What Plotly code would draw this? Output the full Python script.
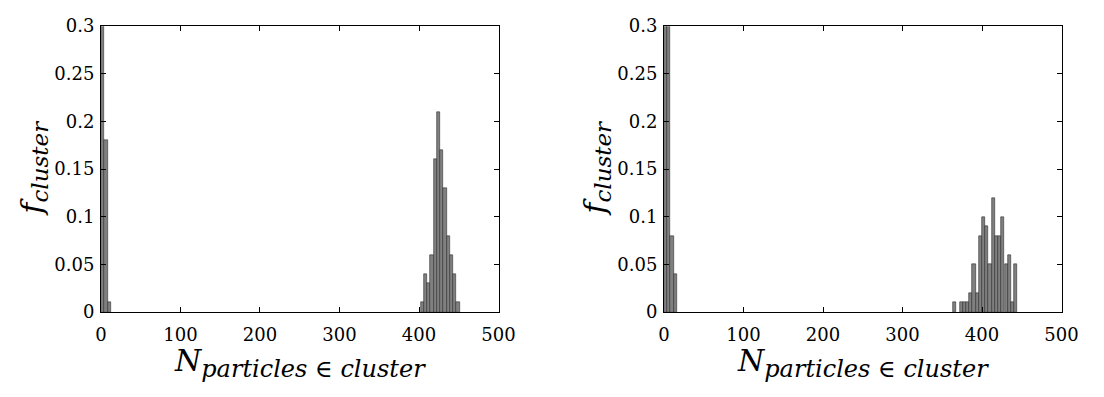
import plotly.graph_objects as go

# ---- data ----
left_x = [2.05, 6.15, 10.25,
          403.9, 408.0, 412.1, 416.2, 420.3, 424.4, 428.5, 432.6, 436.7, 440.8, 444.9, 449.0]
left_y = [0.52, 0.18, 0.01,
          0.01, 0.04, 0.03, 0.06, 0.16, 0.21, 0.17, 0.13, 0.08, 0.06, 0.04, 0.01]
left_width = 4.1

right_x = [2.0, 6.1, 10.1, 14.1,
           365.6,
           373.7, 377.7, 381.8, 385.8, 389.9, 393.9, 397.9, 402.0, 406.0,
           410.1, 414.1, 418.1, 422.2, 426.2, 430.3, 434.3, 438.3, 442.4]
right_y = [0.45, 0.43, 0.08, 0.04,
           0.01,
           0.01, 0.01, 0.01, 0.02, 0.05, 0.02, 0.08, 0.10, 0.09,
           0.05, 0.12, 0.08, 0.08, 0.10, 0.05, 0.06, 0.01, 0.05]
right_width = 4.04

x_ticks = [0, 100, 200, 300, 400, 500]
y_ticks = [0, 0.05, 0.1, 0.15, 0.2, 0.25, 0.3]
y_tick_text = ["0", "0.05", "0.1", "0.15", "0.2", "0.25", "0.3"]

y_title = "<i>f</i><sub><span style='font-size:23px'><i>cluster</i></span></sub>"
x_title = ("<i>N</i><sub><span style='font-size:24px'><i>particles</i> ∈ "
           "<i>cluster</i></span></sub>")

W, H = 1104, 397
FONT = "DejaVu Serif"

fig = go.Figure()
bar_style = dict(marker=dict(color="rgb(128,128,128)",
                             line=dict(color="rgb(45,45,45)", width=0.6)),
                 showlegend=False, hoverinfo="skip")
fig.add_trace(go.Bar(x=left_x, y=left_y, width=[left_width] * len(left_x),
                     xaxis="x", yaxis="y", **bar_style))
fig.add_trace(go.Bar(x=right_x, y=right_y, width=[right_width] * len(right_x),
                     xaxis="x2", yaxis="y2", **bar_style))

def px_x(p):
    return p / W

def px_y(p):
    return 1 - p / H

ax_common = dict(showline=True, linecolor="black", linewidth=1, mirror="ticks",
                 ticks="inside", ticklen=5, tickcolor="black", tickwidth=1,
                 showgrid=False, zeroline=False,
                 tickfont=dict(family=FONT, size=18, color="black"))

fig.update_layout(
    width=W, height=H,
    margin=dict(l=0, r=0, t=0, b=0),
    paper_bgcolor="white", plot_bgcolor="white",
    font=dict(family=FONT, color="black"),
    bargap=0,
    xaxis=dict(domain=[px_x(97), px_x(503)], range=[0, 500], tickvals=x_ticks,
               anchor="y", ticklabelstandoff=6, **ax_common),
    yaxis=dict(domain=[px_y(318), px_y(16)], range=[0, 0.3], tickvals=y_ticks,
               ticktext=y_tick_text, anchor="x", ticklabelstandoff=2, **ax_common),
    xaxis2=dict(domain=[px_x(672), px_x(1078)], range=[0, 500], tickvals=x_ticks,
                anchor="y2", ticklabelstandoff=6, **ax_common),
    yaxis2=dict(domain=[px_y(318), px_y(16)], range=[0, 0.3], tickvals=y_ticks,
                ticktext=y_tick_text, anchor="x2", ticklabelstandoff=2, **ax_common),
)

title_font = dict(family=FONT, size=30, color="black")
for xc in (300, 875):
    fig.add_annotation(x=px_x(xc), y=px_y(372), xref="paper", yref="paper",
                       text=x_title, showarrow=False, font=title_font,
                       xanchor="center", yanchor="middle")
for xc in (28, 603):
    fig.add_annotation(x=px_x(xc), y=px_y(165), xref="paper", yref="paper",
                       text=y_title, showarrow=False, font=title_font,
                       textangle=-90, xanchor="center", yanchor="middle")

fig.write_html("out.html")
